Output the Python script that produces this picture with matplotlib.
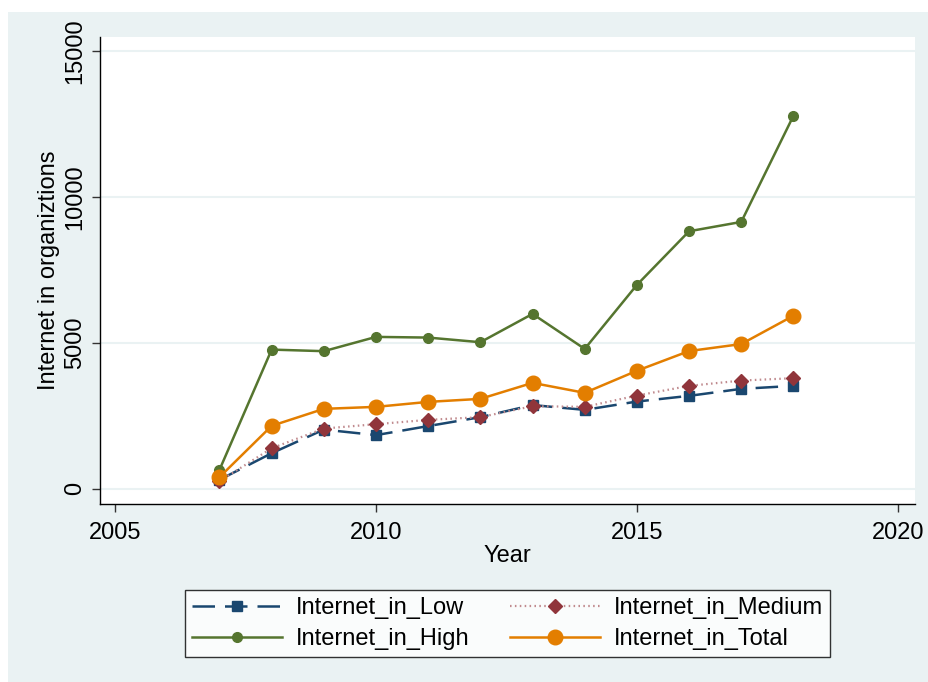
import matplotlib.pyplot as plt
from matplotlib.patches import Rectangle

years = [2007, 2008, 2009, 2010, 2011, 2012, 2013, 2014, 2015, 2016, 2017, 2018]

internet_low = [310, 1220, 2030, 1840, 2150, 2455, 2870, 2705, 2990, 3185, 3425, 3527]
internet_medium = [260, 1390, 2065, 2215, 2363, 2455, 2832, 2808, 3195, 3527, 3709, 3791]
internet_high = [650, 4770, 4716, 5205, 5182, 5023, 5993, 4794, 6986, 8825, 9144, 12780]
internet_total = [400, 2158, 2740, 2808, 2979, 3082, 3630, 3288, 4045, 4720, 4960, 5930]

x_ticks = [2005, 2010, 2015, 2020]
y_ticks = [0, 5000, 10000, 15000]

NAVY = "#1A476F"
MAROON = "#90353B"
MAROON_LIGHT = "#C08A8E"
FOREST = "#55752F"
ORANGE = "#E37E00"
PANEL = "#EAF2F3"

plt.rcParams["font.family"] = ["Liberation Sans", "DejaVu Sans"]

fig = plt.figure(figsize=(9.29, 6.82), dpi=100)
fig.patch.set_facecolor("white")
fig.patches.append(
    Rectangle((8 / 929, 0), 1 - 8 / 929, 1 - 12 / 682,
              transform=fig.transFigure, facecolor=PANEL, edgecolor="none", zorder=-10)
)

ax = fig.add_axes([100 / 929, 1 - 504 / 682, 815 / 929, 467 / 682])
ax.set_facecolor("white")

line_low, = ax.plot(years, internet_low, color=NAVY, linewidth=1.8, linestyle=(0, (9, 4)),
                    marker="s", markersize=7.5, label="Internet_in_Low", zorder=3)
line_med, = ax.plot(years, internet_medium, color=MAROON_LIGHT, linewidth=1.6,
                    linestyle=(0, (0.7, 1.5)), marker="D", markersize=7.5,
                    markerfacecolor=MAROON, markeredgecolor=MAROON,
                    label="Internet_in_Medium", zorder=4)
line_high, = ax.plot(years, internet_high, color=FOREST, linewidth=1.8,
                     marker="o", markersize=7, label="Internet_in_High", zorder=3)
line_total, = ax.plot(years, internet_total, color=ORANGE, linewidth=1.8,
                      marker="o", markersize=10.5, label="Internet_in_Total", zorder=5)

ax.set_xlim(2004.71, 2020.33)
ax.set_ylim(-520, 15480)
ax.set_xticks(x_ticks)
ax.set_yticks(y_ticks)
ax.set_yticklabels([str(v) for v in y_ticks], rotation=90, va="center")
ax.grid(True, axis="y", color=PANEL, linewidth=1.5)
ax.set_axisbelow(True)

for side in ["top", "right"]:
    ax.spines[side].set_visible(False)
for side in ["left", "bottom"]:
    ax.spines[side].set_color("black")
    ax.spines[side].set_linewidth(1.0)

ax.tick_params(axis="both", labelsize=17, length=6, width=1, color="#333333")
ax.tick_params(axis="x", pad=7)
ax.tick_params(axis="y", pad=4)
ax.set_xlabel("Year", fontsize=17, labelpad=1)
ax.set_ylabel("Internet in organiztions", fontsize=17, labelpad=3)

# Stata fills the legend row by row; matplotlib fills columns
handles = [line_low, line_high, line_med, line_total]
leg = fig.legend(
    handles=handles,
    labels=[h.get_label() for h in handles],
    loc="lower left",
    bbox_to_anchor=(185 / 929, 1 - 657 / 682, 645 / 929, 76 / 682),
    mode="expand",
    ncol=2,
    fontsize=17,
    frameon=True,
    fancybox=False,
    edgecolor="black",
    handlelength=3.8,
    handletextpad=0.6,
    borderaxespad=0,
    borderpad=0.3,
    columnspacing=0.5,
    labelspacing=0.38,
)
leg.get_frame().set_linewidth(1.0)
leg.get_frame().set_facecolor("white")

fig.savefig("out.png", dpi=100, facecolor=fig.get_facecolor())
